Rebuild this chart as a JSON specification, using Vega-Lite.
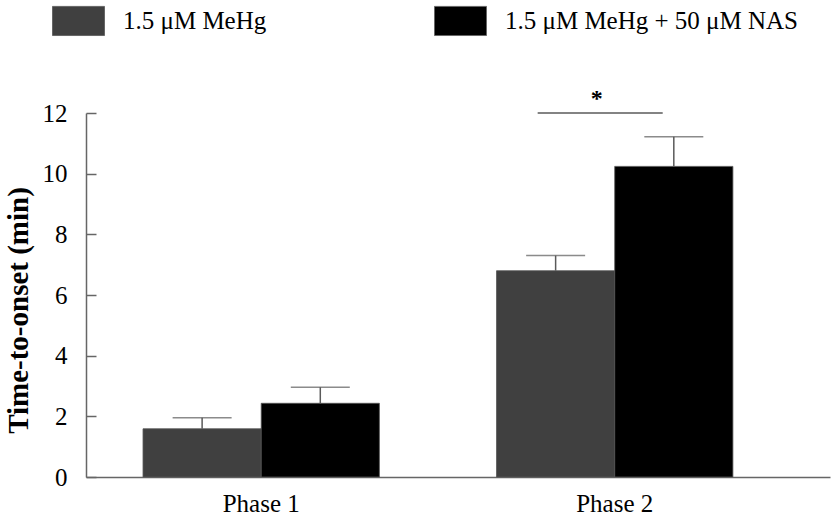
{
  "$schema": "https://vega.github.io/schema/vega-lite/v6.json",
  "width": 744,
  "height": 364,
  "autosize": {"type": "none"},
  "padding": {"left": 86, "top": 113, "right": 6, "bottom": 46},
  "config": {"view": {"stroke": null}, "font": "Liberation Serif"},
  "datasets": {
    "bars": [
      {"phase": "Phase 1", "group": "1.5 μM MeHg", "mean": 1.59, "upper": 1.95},
      {"phase": "Phase 1", "group": "1.5 μM MeHg + 50 μM NAS", "mean": 2.43, "upper": 2.96},
      {"phase": "Phase 2", "group": "1.5 μM MeHg", "mean": 6.8, "upper": 7.3},
      {"phase": "Phase 2", "group": "1.5 μM MeHg + 50 μM NAS", "mean": 10.24, "upper": 11.22}
    ],
    "sig": [{"phase": "Phase 2", "y": 12, "ystar": 12.23, "label": "*"}]
  },
  "layer": [
    {
      "data": {"name": "bars"},
      "mark": {"type": "bar", "stroke": "#555555", "strokeWidth": 0.8},
      "encoding": {
        "x": {
          "field": "phase", "type": "nominal",
          "scale": {"domain": ["Phase 1", "Phase 2"], "paddingInner": 0.3314, "paddingOuter": 0.218, "align": 0.37},
          "axis": {"title": null, "ticks": false, "labelAngle": 0, "labelFontSize": 25, "labelColor": "black", "labelFont": "Liberation Serif", "labelPadding": 14, "domainColor": "#666666", "domainWidth": 1.5}
        },
        "xOffset": {
          "field": "group", "type": "nominal",
          "scale": {"domain": ["1.5 μM MeHg", "1.5 μM MeHg + 50 μM NAS"], "paddingInner": 0, "paddingOuter": 0}
        },
        "y": {
          "field": "mean", "type": "quantitative",
          "scale": {"domain": [0, 12], "nice": false},
          "axis": {
            "title": "Time-to-onset (min)", "titleFont": "Liberation Serif", "titleFontWeight": "bold", "titleFontSize": 29, "titleColor": "black", "titlePadding": 9, "titleY": 197,
            "labelFontSize": 25, "labelColor": "black", "labelFont": "Liberation Serif",
            "tickSize": -10, "labelPadding": 29, "domainColor": "#666666", "tickColor": "#666666", "domainWidth": 1.5, "tickWidth": 1.5,
            "grid": false, "values": [0, 2, 4, 6, 8, 10, 12]
          }
        },
        "color": {
          "field": "group", "type": "nominal",
          "scale": {"domain": ["1.5 μM MeHg", "1.5 μM MeHg + 50 μM NAS"], "range": ["#404040", "#000000"]},
          "legend": {
            "title": null, "orient": "none", "legendX": -34, "legendY": -119, "direction": "horizontal",
            "symbolType": "M-1,-0.56H1V0.56H-1Z", "symbolSize": 2704, "symbolStrokeColor": "#666666", "symbolStrokeWidth": 1,
            "labelFont": "Liberation Serif", "labelFontSize": 25, "labelColor": "black", "labelOffset": 18, "labelLimit": 500, "columnPadding": 165, "symbolOpacity": 1
          }
        }
      }
    },
    {
      "data": {"name": "bars"},
      "mark": {"type": "rule", "color": "#5a5a5a", "strokeWidth": 1.5},
      "encoding": {
        "x": {"field": "phase", "type": "nominal"},
        "xOffset": {"field": "group", "type": "nominal"},
        "y": {"field": "mean", "type": "quantitative"},
        "y2": {"field": "upper"}
      }
    },
    {
      "data": {"name": "bars"},
      "mark": {"type": "tick", "color": "#5a5a5a", "thickness": 1.5, "size": 59, "orient": "horizontal"},
      "encoding": {
        "x": {"field": "phase", "type": "nominal"},
        "xOffset": {"field": "group", "type": "nominal"},
        "y": {"field": "upper", "type": "quantitative"}
      }
    },
    {
      "data": {"name": "sig"},
      "mark": {"type": "rule", "color": "#5a5a5a", "strokeWidth": 1.5},
      "encoding": {
        "x": {"field": "phase", "type": "nominal", "bandPosition": 0.174},
        "x2": {"field": "phase", "bandPosition": 0.703},
        "y": {"field": "y", "type": "quantitative"}
      }
    },
    {
      "data": {"name": "sig"},
      "mark": {"type": "text", "font": "Liberation Serif", "fontSize": 24, "fontWeight": "bold", "baseline": "alphabetic", "align": "center", "color": "black"},
      "encoding": {
        "x": {"field": "phase", "type": "nominal", "bandPosition": 0.424},
        "y": {"field": "ystar", "type": "quantitative"},
        "text": {"field": "label"}
      }
    }
  ]
}
